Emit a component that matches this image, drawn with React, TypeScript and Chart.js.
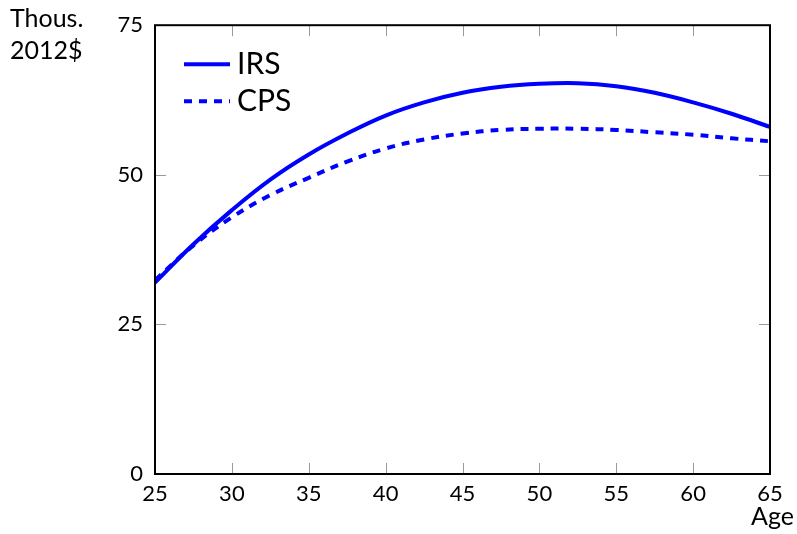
import React, { useEffect, useRef } from "react";
import { Chart, registerables } from "chart.js";

Chart.register(...registerables);

const ages = [25, 27.5, 30, 32.5, 35, 37.5, 40, 42.5, 45, 47.5, 50, 52.5, 55, 57.5, 60, 62.5, 65];
const irs = [32.0, 38.4, 44.1, 49.2, 53.4, 56.9, 59.9, 62.1, 63.7, 64.7, 65.2, 65.3, 64.8, 63.7, 62.1, 60.2, 58.0];
const cps = [32.4, 38.2, 42.9, 46.6, 49.5, 52.2, 54.4, 55.9, 56.9, 57.5, 57.7, 57.7, 57.5, 57.1, 56.7, 56.1, 55.6];
const seriesNames = ["IRS", "CPS"];
const xTicks = [25, 30, 35, 40, 45, 50, 55, 60, 65];
const yTicks = [0, 25, 50, 75];
const yTitle = ["Thous.", "2012$"];
const xTitle = "Age";

const FONT = "Lato, 'Open Sans', sans-serif";
const BLUE = "#0000ff";

const framePlugin = {
  id: "frame",
  afterDatasetsDraw(chart: any) {
    const { ctx, chartArea: a, scales } = chart;
    const xs = scales.x;
    const ys = scales.y;
    ctx.save();
    ctx.strokeStyle = "#9a9a9a";
    ctx.lineWidth = 1;
    const tl = 11;
    xTicks.forEach((v) => {
      const px = Math.round(xs.getPixelForValue(v)) + 0.5;
      ctx.beginPath();
      ctx.moveTo(px, a.bottom);
      ctx.lineTo(px, a.bottom - tl);
      ctx.moveTo(px, a.top);
      ctx.lineTo(px, a.top + tl);
      ctx.stroke();
    });
    yTicks.forEach((v) => {
      const py = Math.round(ys.getPixelForValue(v)) + 0.5;
      ctx.beginPath();
      ctx.moveTo(a.left, py);
      ctx.lineTo(a.left + tl, py);
      ctx.moveTo(a.right, py);
      ctx.lineTo(a.right - tl, py);
      ctx.stroke();
    });
    ctx.strokeStyle = "#000";
    ctx.lineWidth = 2;
    ctx.strokeRect(a.left, a.top, a.right - a.left, a.bottom - a.top);

    const ds = chart.data.datasets;
    const legendY = [a.top + 39, a.top + 76];
    ds.forEach((d: any, i: number) => {
      ctx.strokeStyle = d.borderColor;
      ctx.lineWidth = d.borderWidth;
      ctx.setLineDash(d.borderDash || []);
      ctx.beginPath();
      ctx.moveTo(a.left + 29, legendY[i]);
      ctx.lineTo(a.left + 75, legendY[i]);
      ctx.stroke();
      ctx.setLineDash([]);
      ctx.fillStyle = "#000";
      ctx.font = `30px ${FONT}`;
      ctx.textBaseline = "alphabetic";
      ctx.textAlign = "left";
      ctx.fillText(d.label, a.left + 82, legendY[i] + 10);
    });

    ctx.fillStyle = "#000";
    ctx.font = `25px ${FONT}`;
    ctx.textAlign = "left";
    ctx.fillText(yTitle[0], 10, 27);
    ctx.fillText(yTitle[1], 10, 59);
    ctx.textAlign = "right";
    ctx.fillText(xTitle, 794, 525);
    ctx.restore();
  },
};

export default function App() {
  const ref = useRef<HTMLCanvasElement | null>(null);
  useEffect(() => {
    document.body.style.margin = "0";
    const chart = new Chart(ref.current as HTMLCanvasElement, {
      type: "line",
      data: {
        datasets: [
          {
            label: seriesNames[0],
            data: ages.map((x, i) => ({ x, y: irs[i] })),
            borderColor: BLUE,
            backgroundColor: BLUE,
            borderWidth: 4,
            pointRadius: 0,
            tension: 0.4,
            fill: false,
          },
          {
            label: seriesNames[1],
            data: ages.map((x, i) => ({ x, y: cps[i] })),
            borderColor: BLUE,
            backgroundColor: BLUE,
            borderWidth: 4,
            borderDash: [8, 7],
            pointRadius: 0,
            tension: 0.4,
            fill: false,
          },
        ],
      },
      options: {
        animation: false,
        responsive: false,
        maintainAspectRatio: false,
        layout: { padding: { left: 0, right: 27, top: 20, bottom: 0 } },
        plugins: { legend: { display: false }, tooltip: { enabled: false } },
        scales: {
          x: {
            type: "linear",
            min: 25,
            max: 65,
            afterBuildTicks: (s: any) => {
              s.ticks = xTicks.map((v) => ({ value: v }));
            },
            afterFit: (s: any) => {
              s.height = 60;
            },
            grid: { display: false, drawTicks: false },
            border: { display: false },
            ticks: {
              padding: 7,
              color: "#000",
              font: { family: FONT, size: 22 },
              maxRotation: 0,
              autoSkip: false,
            },
          },
          y: {
            type: "linear",
            min: 0,
            max: 75,
            afterBuildTicks: (s: any) => {
              s.ticks = yTicks.map((v) => ({ value: v }));
            },
            afterFit: (s: any) => {
              s.width = 155;
            },
            grid: { display: false, drawTicks: false },
            border: { display: false },
            ticks: {
              padding: 12,
              color: "#000",
              font: { family: FONT, size: 22 },
              autoSkip: false,
            },
          },
        },
      },
      plugins: [framePlugin],
    } as any);
    return () => chart.destroy();
  }, []);
  return (
    <div style={{ position: "absolute", left: 0, top: 0, width: 797, height: 534 }}>
      <canvas ref={ref} width={797} height={534} style={{ width: 797, height: 534 }} />
    </div>
  );
}
